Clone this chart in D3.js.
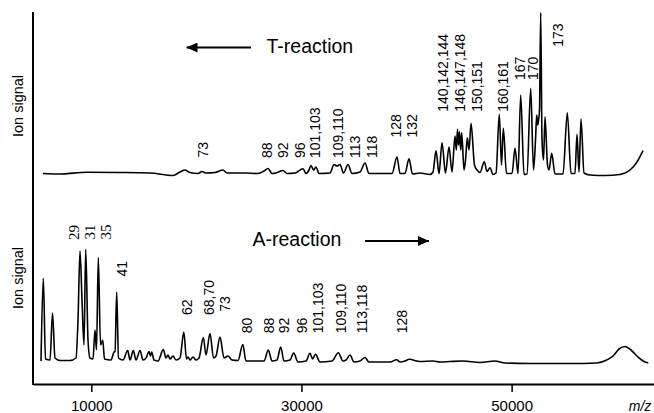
<html>
<head>
  <title>T-reaction / A-reaction spectra</title>
  <script src="https://d3js.org/d3.v7.min.js"></script>
  <style>
    body { margin: 0; background: #fff; }
    text { font-family: "Liberation Sans", Arial, sans-serif; fill: #000; }
  </style>
</head>
<body>
  <script>
    var w = 654;
    var h = 413;

    // upper trace (T-reaction), m/z and ion signal (arb. units)
    var topMz = [5402, 7020, 9590, 12730, 15586, 17774, 18441, 18916, 19392, 20154, 20534, 20915, 21772, 22533, 22914,
      24627, 25864, 26435, 26816, 27196, 27577, 28243, 28624, 29385, 30147, 30432, 30718, 30908, 31146, 31384, 31669,
      32716, 33097, 33382, 33668, 34001, 34429, 34810, 35571, 36047, 36428, 38617, 39092, 39378, 39854, 40235, 40568,
      41281, 42233, 42519, 42804, 43090, 43375, 43708, 44041, 44327, 44612, 44736, 44850, 44945, 45041, 45155, 45250,
      45469, 45612, 45783, 45945, 46135, 46468, 46706, 46992, 47401, 47658, 47943, 48229, 48514, 48828, 49038, 49209,
      49514, 50037, 50323, 50608, 50865, 51179, 51465, 51817, 52083, 52274, 52388, 52483, 52559, 52654, 52768, 52892,
      53035, 53178, 53415, 53558, 53815, 54129, 54891, 55300, 55652, 56033, 56223, 56413, 56604, 56889, 57460, 58888,
      60315, 61267, 61933, 62504];
    var topSignal = [0.75, 0.5, 1.35, 1.25, 1, -0.25, 1.5, 2.5, 1.25, 0.75, 1.75, 1, 1.25, 2.5, 1,
      1, 0.75, 2, 3.25, 0.75, 1, 2.25, 0.75, 1, 3.15, 0.75, 2.5, 4.75, 2.5, 4, 0.75,
      1, 5.25, 4.5, 5.25, 1, 5.25, 0.75, 1.5, 6, 0.75, 0.75, 9, 0.75, 0.75, 8.15, 0.5,
      1, 0.25, 1.5, 12.15, 0.75, 16.15, 1, 14, 1.5, 19.5, 12.5, 22.85, 15, 21.65, 12.5, 21.15,
      2.5, 7.5, 18.65, 12.5, 25.85, 5, 2.5, 1.25, 6.65, 1.75, 3.65, 0.25, 1, 30.35, 5, 23.35,
      0.75, 0.75, 13.35, 0.75, 40, 0.25, 0.5, 43.35, 2.5, 17.5, 30, 25, 27.5, 32.5, 81.25, 17.5,
      7.5, 29.15, 5, 2.5, 10.85, 0.5, 0.5, 31.15, 0.75, 0.75, 20.35, 1.5, 28, 1, 0, -0.25,
      0.25, 2.5, 6.5, 12.15];

    // lower trace (A-reaction)
    var botMz = [5212, 5431, 5640, 6069, 6306, 6544, 7020, 7972, 8543, 8733, 8924, 9114, 9304, 9466, 9685, 9875,
      10161, 10351, 10494, 10665, 10875, 11084, 11255, 11874, 12159, 12255, 12416, 12587, 13016, 13463, 13682,
      13996, 14253, 14634, 14919, 15205, 15490, 15633, 15747, 15966, 16347, 16851, 17108, 17299, 17489, 17774,
      18060, 18441, 18802, 19059, 19202, 19392, 19678, 19963, 20249, 20658, 20915, 21296, 21629, 21867, 22247,
      22628, 23009, 23389, 23960, 24417, 24722, 26435, 26844, 27196, 27672, 28024, 28338, 28909, 29261, 29671,
      30432, 30813, 31051, 31336, 31764, 32906, 33506, 33953, 34239, 34620, 35000, 35571, 36047, 36428, 38426,
      39064, 39378, 39854, 40263, 41281, 42519, 43185, 44137, 45374, 46992, 48419, 49371, 51750, 55557, 58098,
      59050, 59649, 60220, 60791, 61362, 62028, 62599, 63009];
    var botSignal = [1, 42.35, 2, 1.5, 25, 2.5, 1.25, 1.25, 2.5, 21.5, 56, 31.5, 9, 56.85, 11.5, 2.5,
      2, 16.5, 6.5, 52.75, 9, 11.5, 2, 1.5, 5.5, 5.75, 35.5, 2.5, 1.5, 6.25, 1.5,
      6.25, 1.5, 6.25, 1.5, 2.5, 5.75, 3.5, 5.5, 1.5, 1, 6.75, 2.5, 4, 2, 3.5,
      1.5, 2.5, 15.5, 2, 3, 1.5, 3, 1.5, 2.5, 12.75, 4, 14.75, 2.5, 3.5, 13,
      2.5, 3.5, 1.5, 1.25, 9.25, 1, 1, 6.5, 1, 1.5, 8, 1, 1.5, 5, 0.5,
      1, 4.85, 2, 4.35, 0.5, 1, 5.15, 1, 1.5, 4, 0.5, 1, 2.75, 0.5, 0.5,
      1.6, 0.5, 1, 1.85, 0.75, 1, 0.5, 0.75, 1, 0.25, 1, 0, -0.25, -0.25, 0,
      1.5, 3.5, 7, 8.25, 6.5, 3, 0.75, 0];

    // peak labels: text, m/z of anchor, signal level where the label starts
    var topLabels = ["73", "88", "92", "96", "101,103", "109,110", "113", "118", "128", "132",
      "140,142,144", "146,147,148", "150,151", "160,161", "167", "170", "173"];
    var topLabelMz = [20658, 26691, 28215, 29861, 31336, 33525, 35143, 36713, 39045, 40491,
      43499, 45088, 46678, 49209, 50798, 52007, 54443];
    var topLabelLevel = [8.75, 8.5, 8.5, 8.5, 8.5, 8.5, 8.5, 8.5, 18.75, 18.75,
      31.65, 31.65, 31.65, 31.65, 47.5, 47.5, 64.15];

    var botLabels = ["29", "31", "35", "41", "62", "68,70", "73", "80", "88", "92", "96",
      "101,103", "109,110", "113,118", "128"];
    var botLabelMz = [8353, 9809, 11398, 12892, 19107, 21229, 22771, 24788, 26911, 28367, 30022,
      31603, 33763, 35790, 39540];
    var botLabelLevel = [61.5, 61.75, 61.75, 43.25, 24, 24, 25.65, 14.85, 14.85, 14.85, 14.85,
      14.85, 14.85, 14.85, 14.85];
    var serifLabels = ["29", "31", "35"];

    var xTicks = [10000, 30000, 50000];

    var svg = d3.select("body").append("svg").attr("width", w).attr("height", h);

    var x = d3.scaleLinear().domain([4450, 63550]).range([33, 654]);
    var yTop = d3.scaleLinear().domain([0, 82]).range([175, 11]);
    var yBot = d3.scaleLinear().domain([0, 60]).range([363, 243]);

    function trace(mz, sig, y) {
      var pts = mz.map(function(m, i){ return [m, sig[i]]; });
      var line = d3.line()
        .x(function(d){ return x(d[0]); })
        .y(function(d){ return y(d[1]); })
        .curve(d3.curveMonotoneX);
      svg.append("path").datum(pts)
        .attr("d", line)
        .attr("fill", "none").attr("stroke", "#000")
        .attr("stroke-width", 1.6).attr("stroke-linejoin", "round");
    }
    trace(topMz, topSignal, yTop);
    trace(botMz, botSignal, yBot);

    function labels(txt, mz, lvl, y) {
      svg.append("g").selectAll("text").data(txt).enter().append("text")
        .attr("transform", function(d, i){ return "translate(" + x(mz[i]) + "," + y(lvl[i]) + ") rotate(-90)"; })
        .attr("dy", "0.35em")
        .style("font-size", function(d){ return serifLabels.indexOf(d) >= 0 && y === yBot ? "15px" : "14px"; })
        .style("font-family", function(d){ return serifLabels.indexOf(d) >= 0 && y === yBot ? "'Liberation Serif', 'Times New Roman', serif" : null; })
        .text(function(d){ return d; });
    }
    labels(topLabels, topLabelMz, topLabelLevel, yTop);
    labels(botLabels, botLabelMz, botLabelLevel, yBot);

    // axes
    var xAxis = d3.axisBottom(x).tickValues(xTicks).tickFormat(d3.format("d"))
      .tickSize(8).tickSizeOuter(0).tickPadding(8);
    var gx = svg.append("g").attr("transform", "translate(0,384)").call(xAxis);
    gx.select(".domain").attr("stroke-width", 2);
    gx.selectAll(".tick line").attr("stroke-width", 1.5);
    gx.selectAll(".tick text").style("font-size", "15px")
      .style("font-family", "'Liberation Sans', Arial, sans-serif");
    svg.append("line").attr("x1", 33).attr("x2", 33).attr("y1", 12).attr("y2", 385)
      .attr("stroke", "#000").attr("stroke-width", 2);

    svg.append("text").attr("x", 640).attr("y", 411).attr("text-anchor", "middle")
      .style("font-size", "14px").style("font-style", "italic").text("m/z");

    [106, 278].forEach(function(cy){
      svg.append("text").attr("transform", "translate(18," + cy + ") rotate(-90)")
        .attr("text-anchor", "middle").attr("dy", "0.35em")
        .style("font-size", "14.5px").text("Ion signal");
    });

    // reaction captions with arrows
    var defs = svg.append("defs");
    defs.append("marker").attr("id", "head").attr("viewBox", "0 0 11 10")
      .attr("refX", 11).attr("refY", 5).attr("markerWidth", 11).attr("markerHeight", 10)
      .attr("markerUnits", "userSpaceOnUse").attr("orient", "auto")
      .append("path").attr("d", "M0,0L11,5L0,10Z").attr("fill", "#000");

    svg.append("text").attr("x", 266.5).attr("y", 53.3).style("font-size", "19.5px").text("T-reaction");
    svg.append("line").attr("x1", 251).attr("x2", 186.5).attr("y1", 47.5).attr("y2", 47.5)
      .attr("stroke", "#000").attr("stroke-width", 1.8).attr("marker-end", "url(#head)");

    svg.append("text").attr("x", 252.5).attr("y", 246).style("font-size", "19.5px").text("A-reaction");
    svg.append("line").attr("x1", 365).attr("x2", 429).attr("y1", 241).attr("y2", 241)
      .attr("stroke", "#000").attr("stroke-width", 1.8).attr("marker-end", "url(#head)");
  </script>
</body>
</html>
